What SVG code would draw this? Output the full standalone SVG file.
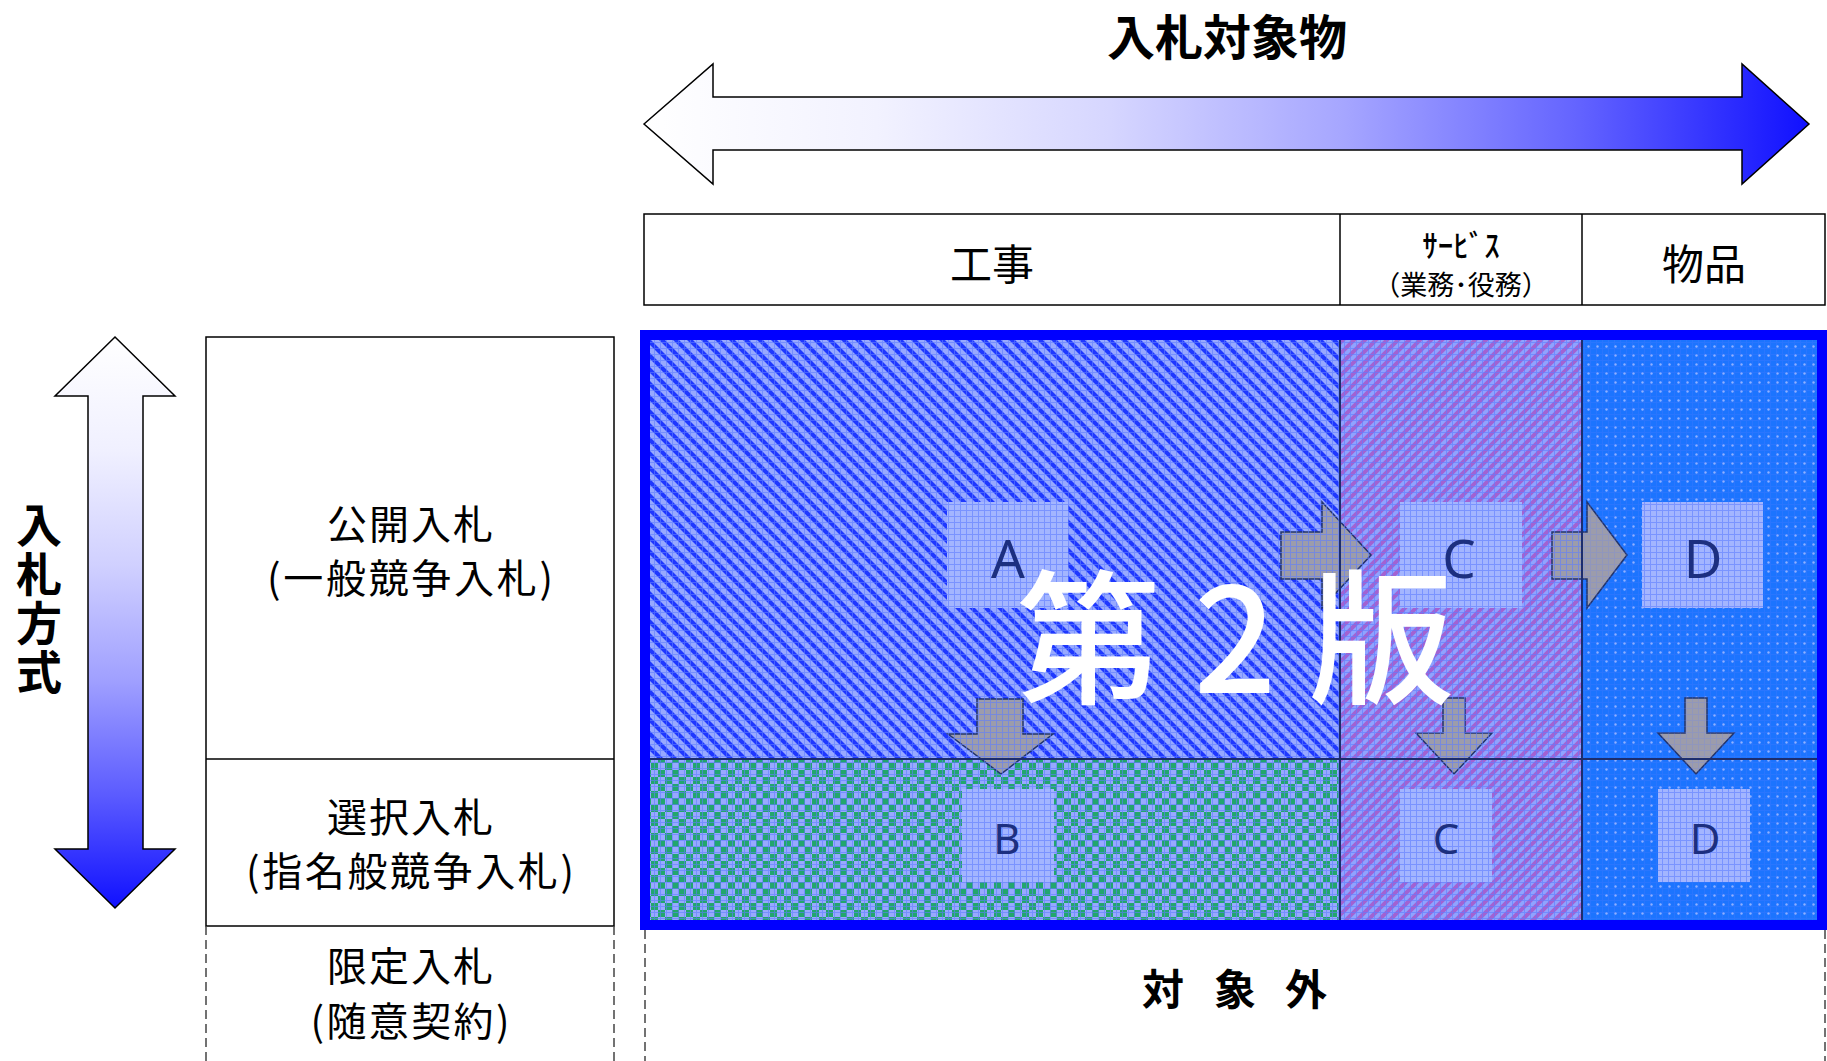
<svg xmlns="http://www.w3.org/2000/svg" width="1827" height="1061" viewBox="0 0 1827 1061">
<style>
.t{font-family:"Noto Sans CJK JP","Noto Sans",sans-serif;fill:#000;text-anchor:middle}
.b{font-weight:bold}
.lt{font-family:"Noto Sans","Noto Sans CJK JP",sans-serif;fill:#1c2f80;text-anchor:middle}
.ln{fill:none;stroke:#000;stroke-width:1.5}
.dash{fill:none;stroke:#444;stroke-width:1.5;stroke-dasharray:9 5}
.garrow{fill:#9c9cab;stroke:#22346e;stroke-width:1.5;stroke-linejoin:miter}
.div{stroke:#1c2d6e;stroke-width:2}
</style>
<defs>
<linearGradient id="gH" x1="0" y1="0" x2="1" y2="0">
<stop offset="0" stop-color="#ffffff"/>
<stop offset="0.2" stop-color="#f2f2ff"/>
<stop offset="0.4" stop-color="#d6d6ff"/>
<stop offset="0.6" stop-color="#a6a6ff"/>
<stop offset="0.8" stop-color="#6464ff"/>
<stop offset="1" stop-color="#1010ff"/>
</linearGradient>
<linearGradient id="gV" x1="0" y1="0" x2="0" y2="1">
<stop offset="0" stop-color="#ffffff"/>
<stop offset="0.2" stop-color="#f0f0ff"/>
<stop offset="0.4" stop-color="#d0d0ff"/>
<stop offset="0.6" stop-color="#a0a0ff"/>
<stop offset="0.8" stop-color="#5c5cff"/>
<stop offset="1" stop-color="#1010ff"/>
</linearGradient>
<pattern id="pA" width="14" height="14" patternUnits="userSpaceOnUse">
<rect width="14" height="14" fill="#97a9ff"/>
<path d="M-3,-3 L17,17 M-3,11 L3,17 M11,-3 L17,3" stroke="#1f38ff" stroke-width="4.2"/>
</pattern>
<pattern id="pC" width="11" height="11" patternUnits="userSpaceOnUse">
<rect width="11" height="11" fill="#8fa3ff"/>
<path d="M-2,13 L13,-2 M-2,2 L2,-2 M9,13 L13,9" stroke="#a262d2" stroke-width="4"/>
</pattern>
<pattern id="pB" width="14" height="14" patternUnits="userSpaceOnUse">
<rect width="14" height="14" fill="#98a9ff"/>
<rect width="7" height="7" fill="#22a66e"/>
<rect x="7" y="7" width="7" height="7" fill="#22a66e"/>
</pattern>
<pattern id="pD" width="9" height="9" patternUnits="userSpaceOnUse">
<rect width="9" height="9" fill="#1c74ff"/>
<circle cx="4.5" cy="4.5" r="1.2" fill="#8fb0ff"/>
</pattern>
<pattern id="pG" width="6" height="6" patternUnits="userSpaceOnUse">
<path d="M0,0.5 H6 M0.5,0 V6" stroke="#5f7dff" stroke-width="1"/>
</pattern>
</defs>

<rect width="1827" height="1061" fill="#fff"/>

<g id="title">
<text class="t b" x="1227" y="55" font-size="48">入札対象物</text>
</g>

<g id="object-arrow">
<polygon points="644,124 713,64 713,97 1742,97 1742,64 1809,124 1742,184 1742,150 713,150 713,184" fill="url(#gH)" stroke="#000" stroke-width="1.5"/>
</g>

<g id="header">
<rect class="ln" x="644" y="214" width="1181" height="91"/>
<line class="ln" x1="1340" y1="214" x2="1340" y2="305"/>
<line class="ln" x1="1582" y1="214" x2="1582" y2="305"/>
<text class="t" x="992" y="280" font-size="42">工事</text>
<text class="t" x="1461" y="257" font-size="31" font-weight="500">ｻｰﾋﾞｽ</text>
<text class="t" x="1461" y="295" font-size="27">（業務･役務）</text>
<text class="t" x="1704" y="280" font-size="42">物品</text>
</g>

<g id="method-arrow">
<polygon points="115,337 175,396 143,396 143,849 175,849 115,908 55,849 88,849 88,396 55,396" fill="url(#gV)" stroke="#000" stroke-width="1.5"/>
<text class="b" x="39" y="502" font-size="46" font-family="'Noto Sans CJK JP',sans-serif" writing-mode="vertical-rl" letter-spacing="3">入札方式</text>
</g>

<g id="method-table">
<rect class="ln" x="206" y="337" width="408" height="589"/>
<line class="ln" x1="206" y1="759" x2="614" y2="759"/>
<line class="dash" x1="206" y1="926" x2="206" y2="1061"/>
<line class="dash" x1="614" y1="926" x2="614" y2="1061"/>
<text class="t" x="410" y="539" font-size="40" textLength="166" lengthAdjust="spacing">公開入札</text>
<text class="t" x="410" y="593" font-size="40" textLength="286" lengthAdjust="spacing">(一般競争入札)</text>
<text class="t" x="410" y="832" font-size="40" textLength="166" lengthAdjust="spacing">選択入札</text>
<text class="t" x="410" y="886" font-size="40" textLength="328" lengthAdjust="spacing">(指名般競争入札)</text>
<text class="t" x="410" y="981" font-size="40" textLength="166" lengthAdjust="spacing">限定入札</text>
<text class="t" x="410" y="1036" font-size="40" textLength="199" lengthAdjust="spacing">(随意契約)</text>
</g>

<g id="matrix">
<rect x="650" y="340" width="690" height="419" fill="url(#pA)"/>
<rect x="650" y="759" width="690" height="161" fill="url(#pB)"/>
<rect x="1340" y="340" width="242" height="580" fill="url(#pC)"/>
<rect x="1582" y="340" width="235" height="580" fill="url(#pD)"/>
</g>

<g id="box-A"><rect x="947" y="502" width="121" height="106" fill="#a3b5ff"/></g>
<g id="box-C1"><rect x="1400" y="502" width="122" height="106" fill="#a3b5ff"/></g>
<g id="box-D1"><rect x="1642" y="502" width="121" height="106" fill="#a3b5ff"/></g>
<g id="box-B"><rect x="962" y="789" width="92" height="93" fill="#a3b5ff"/></g>
<g id="box-C2"><rect x="1400" y="789" width="92" height="93" fill="#a3b5ff"/></g>
<g id="box-D2"><rect x="1658" y="789" width="92" height="93" fill="#a3b5ff"/></g>

<g id="connectors">
<polygon class="garrow" points="1281,532 1322,532 1322,502 1371,555 1322,608 1322,579 1281,579"/>
<polygon class="garrow" points="1552,532 1587,532 1587,502 1627,555 1587,608 1587,579 1552,579"/>
<polygon class="garrow" points="977,699 1023,699 1023,734 1053,734 1001,774 948,734 977,734"/>
<polygon class="garrow" points="1443,698 1465,698 1465,733 1492,733 1454,774 1416,733 1443,733"/>
<polygon class="garrow" points="1685,698 1707,698 1707,733 1734,733 1696,774 1658,733 1685,733"/>
</g>

<g id="grid-overlay">
<rect x="650" y="340" width="932" height="580" fill="url(#pG)" opacity="0.6"/>
<rect x="1582" y="340" width="235" height="580" fill="url(#pG)" opacity="0.2"/>
<rect x="1642" y="502" width="121" height="106" fill="url(#pG)" opacity="0.5"/>
<rect x="1658" y="789" width="92" height="93" fill="url(#pG)" opacity="0.5"/>
<line class="div" x1="1340" y1="340" x2="1340" y2="920"/>
<line class="div" x1="1582" y1="340" x2="1582" y2="920"/>
<line class="div" x1="650" y1="759" x2="1817" y2="759"/>
</g>

<g id="labels">
<text class="lt" x="1008" y="578" font-size="53">A</text>
<text class="lt" x="1459" y="578" font-size="53">C</text>
<text class="lt" x="1703" y="578" font-size="53">D</text>
<text class="lt" x="1007" y="854" font-size="42">B</text>
<text class="lt" x="1446" y="854" font-size="42">C</text>
<text class="lt" x="1705" y="854" font-size="42">D</text>
</g>

<g id="watermark">
<text x="1235" y="693" font-size="145" font-family="'Noto Sans CJK JP','Noto Sans',sans-serif" font-weight="500" fill="#fff" text-anchor="middle">第 2 版</text>
</g>

<g id="frame">
<rect x="645" y="335" width="1177" height="590" fill="none" stroke="#0000ff" stroke-width="10"/>
<line class="dash" x1="645" y1="930" x2="645" y2="1061"/>
<line class="dash" x1="1825" y1="930" x2="1825" y2="1061"/>
</g>

<g id="out-of-scope">
<text class="t b" x="1163" y="1005" font-size="42">対</text>
<text class="t b" x="1235" y="1005" font-size="42">象</text>
<text class="t b" x="1306" y="1005" font-size="42">外</text>
</g>
</svg>
